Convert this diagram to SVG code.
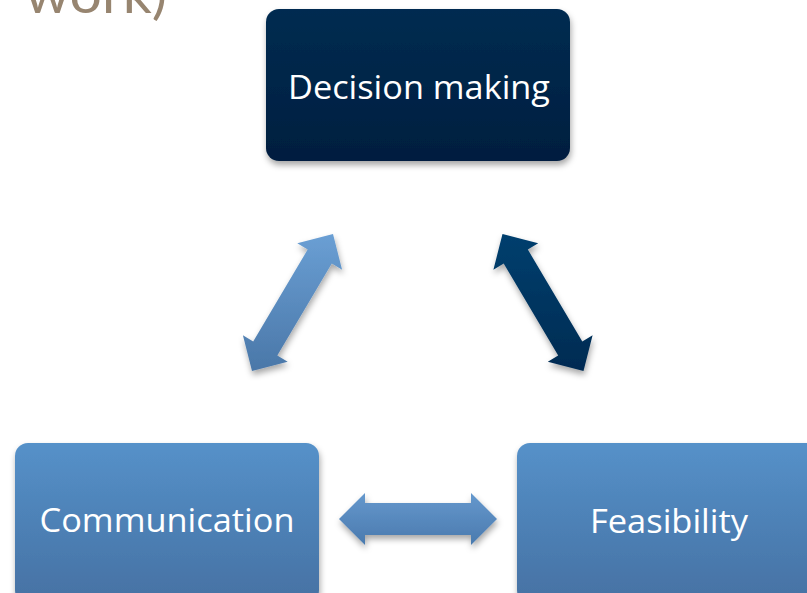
<svg xmlns="http://www.w3.org/2000/svg" width="807" height="593" viewBox="0 0 807 593">
<defs>
<linearGradient id="gDark" x1="0" y1="0" x2="0" y2="1">
<stop offset="0" stop-color="#002c51"/>
<stop offset="1" stop-color="#001e3f"/>
</linearGradient>
<linearGradient id="gBlue" x1="0" y1="0" x2="0" y2="1">
<stop offset="0" stop-color="#5591c9"/>
<stop offset="1" stop-color="#4671a3"/>
</linearGradient>
<linearGradient id="gArrowL" x1="0" y1="0" x2="0" y2="1">
<stop offset="0" stop-color="#6a9fd4"/>
<stop offset="1" stop-color="#4a77a8"/>
</linearGradient>
<linearGradient id="gArrowH" x1="0" y1="0" x2="0" y2="1">
<stop offset="0" stop-color="#6598cd"/>
<stop offset="1" stop-color="#4a7aae"/>
</linearGradient>
<linearGradient id="gArrowR" x1="0" y1="0" x2="0" y2="1">
<stop offset="0" stop-color="#003f6e"/>
<stop offset="1" stop-color="#002b52"/>
</linearGradient>
<filter id="sh" x="-20%" y="-20%" width="140%" height="150%">
<feDropShadow dx="1" dy="4" stdDeviation="3" flood-color="#000" flood-opacity="0.35"/>
</filter>
</defs>
<style>
.lbl{font-family:"Open Sans","Liberation Sans",sans-serif;font-size:33px;fill:#ffffff;text-anchor:middle}
.ttl{font-family:"Lato","Liberation Sans",sans-serif;font-size:54px;fill:#978570}
</style>
<rect width="807" height="593" fill="#ffffff"/>
<text class="ttl" x="25" y="13" textLength="142" lengthAdjust="spacingAndGlyphs">work)</text>
<g id="connectors" filter="url(#sh)">
<path id="arrow-left" fill="url(#gArrowL)" d="M252,370.9 L242.9,335.3 L253.2,341.4 L307.7,249.4 L297.3,243.3 L333,234.1 L342.1,269.7 L331.8,263.6 L277.3,355.6 L287.7,361.7 Z"/>
<path id="arrow-right" fill="url(#gArrowR)" d="M583.5,370.9 L592.6,335.3 L582.3,341.4 L527.8,249.4 L538.2,243.3 L502.5,234.1 L493.4,269.7 L503.7,263.6 L558.2,355.6 L547.8,361.7 Z"/>
<path id="arrow-bottom" fill="url(#gArrowH)" d="M339,519 L365,493 L365,503 L471,503 L471,493 L497,519 L471,545 L471,535 L365,535 L365,545 Z"/>
</g>
<g id="decision">
<rect x="266" y="9" width="304" height="152" rx="13" fill="url(#gDark)" filter="url(#sh)"/>
<text class="lbl" x="419" y="99" textLength="262" lengthAdjust="spacingAndGlyphs">Decision making</text>
</g>
<g id="communication">
<rect x="15" y="443" width="304" height="160" rx="13" fill="url(#gBlue)" filter="url(#sh)"/>
<text class="lbl" x="167" y="532" textLength="255" lengthAdjust="spacingAndGlyphs">Communication</text>
</g>
<g id="feasibility">
<rect x="517" y="443" width="304" height="160" rx="13" fill="url(#gBlue)" filter="url(#sh)"/>
<text class="lbl" x="669" y="533" textLength="158" lengthAdjust="spacingAndGlyphs">Feasibility</text>
</g>
</svg>
